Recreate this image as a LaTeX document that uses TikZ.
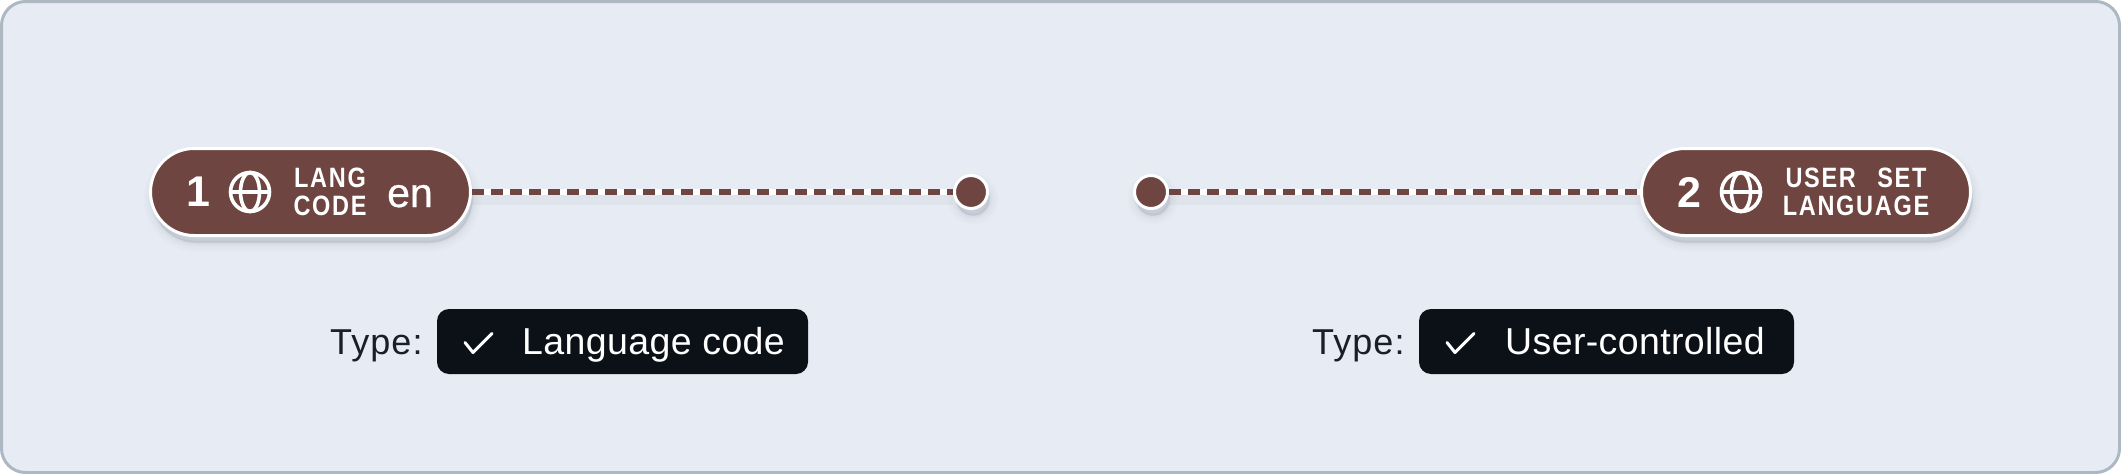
\documentclass[tikz,border=0pt]{standalone}
\usepackage{fontspec}
\setmainfont{Liberation Sans}
\newfontfamily\capsfam{Liberation Sans}[FakeStretch=0.84,LetterSpace=6,WordSpace=2.6]
\newfontfamily\valfam{Liberation Sans}[FakeBold=0.6]
\usetikzlibrary{calc}
\usetikzlibrary{shadows}
\usetikzlibrary{shapes.misc}
\definecolor{panelbg}{HTML}{E7EBF3}
\definecolor{panelline}{HTML}{AEB8C2}
\definecolor{brownfill}{HTML}{6E4540}
\definecolor{badgefill}{HTML}{0C1017}
\definecolor{typeink}{HTML}{1A1E26}
\definecolor{shadowink}{HTML}{2A3A4A}
\tikzset{
	softshadow/.style={
		general shadow={fill=shadowink, draw=shadowink, line width=18pt, opacity=0.01, shadow xshift=2pt, shadow yshift=-7pt},
		general shadow={fill=shadowink, draw=shadowink, line width=13pt, opacity=0.015, shadow xshift=2pt, shadow yshift=-7pt},
		general shadow={fill=shadowink, draw=shadowink, line width=8pt, opacity=0.02, shadow xshift=2pt, shadow yshift=-7pt},
		general shadow={fill=shadowink, draw=shadowink, line width=4pt, opacity=0.03, shadow xshift=2pt, shadow yshift=-7pt},
		general shadow={fill=shadowink, draw=shadowink, line width=1pt, opacity=0.03, shadow xshift=2pt, shadow yshift=-7pt},
	},
	pill/.style={
		draw=white,
		fill=brownfill,
		line width=3pt,
		rounded rectangle,
		inner sep=0pt,
		minimum height=87pt,
		softshadow,
	},
	endpoint/.style={
		draw=white,
		fill=brownfill,
		line width=3pt,
		circle,
		inner sep=0pt,
		minimum size=33pt,
		softshadow,
	},
	badge/.style={
		fill=badgefill,
		rectangle,
		rounded corners=12pt,
		inner sep=0pt,
		minimum height=65pt,
	},
	wirebase/.style={line width=6pt, white},
	wiredash/.style={line width=6pt, brownfill, dash pattern=on 12pt off 7pt},
	wireshadow/.style={line width=12pt, shadowink, opacity=0.04},
	number/.style={text=white, inner sep=0pt, font=\bfseries\fontsize{43}{43}\selectfont},
	smallcaps/.style={text=white, inner sep=0pt, align=center, font=\capsfam\bfseries\fontsize{28}{28}\selectfont},
	langvalue/.style={text=white, inner sep=0pt, anchor=base, font=\valfam\fontsize{41}{41}\selectfont},
	typelabel/.style={text=typeink, inner sep=0pt, anchor=base west, font=\addfontfeatures{LetterSpace=3}\fontsize{36}{36}\selectfont},
	badgetext/.style={text=white, inner sep=0pt, anchor=base west, font=\addfontfeatures{LetterSpace=1}\fontsize{37.5}{37.5}\selectfont},
	globe/.pic={
		\draw[white, line width=3.6pt] (0,0) circle (19.5);
		\draw[white, line width=3.6pt] (0,0) ellipse (9.5 and 19.5);
		\draw[white, line width=3.6pt] (-19.5,0) -- (19.5,0);
	},
	tick/.pic={
		\draw[white, line width=3pt, line cap=round, line join=round] (-13.5,0.5) -- (-5.5,10.5) -- (13.5,-8.5);
	},
}
\begin{document}
\begin{tikzpicture}[x=1pt, y=-1pt]
		\useasboundingbox (0,0) rectangle (2121,474);

		\node[draw=panelline, fill=panelbg, line width=3pt, rectangle, rounded corners=24pt, inner sep=0pt,
			minimum width=2118pt, minimum height=471pt] (panel) at (1060.5,237) {};

%*********

		\node[pill, minimum width=320pt] (pillone) at (310.5,192) {};
		\node[endpoint] (dotone) at (971,192) {};

		\draw[wireshadow] ([yshift=-7pt]pillone.east) -- ([yshift=-7pt]dotone.west);
		\draw[wirebase] (pillone.east) -- (dotone.west);
		\draw[wiredash] (pillone.east) -- (dotone.west);

		\node[number] (numone) at (198,192) {1};
		\pic at (250,192) {globe};
		\node[smallcaps] (langcode) at (330,192) {LANG\\CODE};
		\node[langvalue] (enval) at (410,207) {en};

		\node[typelabel] (typeone) at (330,354) {Type:};
		\node[badge, minimum width=371pt] (badgeone) at (622.5,341.5) {};
		\pic at (478.5,342) {tick};
		\node[badgetext] (textone) at (522,354) {Language code};

%*********

		\node[pill, minimum width=329pt] (pilltwo) at (1806,192) {};
		\node[endpoint] (dottwo) at (1151,192) {};

		\draw[wireshadow] ([yshift=-7pt]dottwo.east) -- ([yshift=-7pt]pilltwo.west);
		\draw[wirebase] (dottwo.east) -- (pilltwo.west);
		\draw[wiredash] (dottwo.east) -- (pilltwo.west);

		\node[number] (numtwo) at (1689,192) {2};
		\pic at (1741,192) {globe};
		\node[smallcaps] (usersetlang) at (1856,192) {USER SET\\LANGUAGE};

		\node[typelabel] (typetwo) at (1312,354) {Type:};
		\node[badge, minimum width=375pt] (badgetwo) at (1606.5,341.5) {};
		\pic at (1460.5,342) {tick};
		\node[badgetext] (texttwo) at (1505,354) {User-controlled};

\end{tikzpicture}
\end{document}
